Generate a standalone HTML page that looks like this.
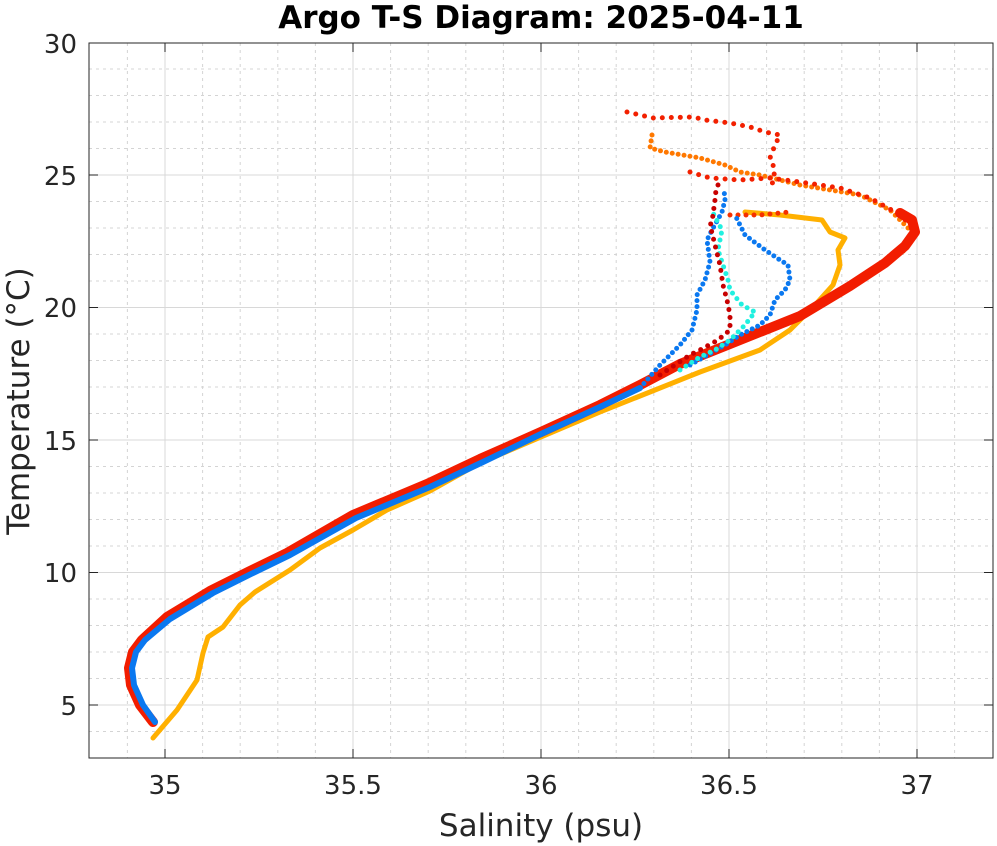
<!DOCTYPE html>
<html><head><meta charset="utf-8"><style>
html,body{margin:0;padding:0;background:#fff;}
svg{display:block;font-family:"DejaVu Sans","Liberation Sans",sans-serif;}
</style></head><body>
<svg width="997" height="846" viewBox="0 0 997 846" xmlns="http://www.w3.org/2000/svg">
<rect width="997" height="846" fill="#fff"/>
<g stroke="#d4d4d4" stroke-width="1" stroke-dasharray="3,4">
<line x1="127.4" y1="43" x2="127.4" y2="758"/><line x1="202.6" y1="43" x2="202.6" y2="758"/><line x1="240.2" y1="43" x2="240.2" y2="758"/><line x1="277.8" y1="43" x2="277.8" y2="758"/><line x1="315.4" y1="43" x2="315.4" y2="758"/><line x1="390.6" y1="43" x2="390.6" y2="758"/><line x1="428.2" y1="43" x2="428.2" y2="758"/><line x1="465.8" y1="43" x2="465.8" y2="758"/><line x1="503.4" y1="43" x2="503.4" y2="758"/><line x1="578.6" y1="43" x2="578.6" y2="758"/><line x1="616.2" y1="43" x2="616.2" y2="758"/><line x1="653.8" y1="43" x2="653.8" y2="758"/><line x1="691.4" y1="43" x2="691.4" y2="758"/><line x1="766.6" y1="43" x2="766.6" y2="758"/><line x1="804.2" y1="43" x2="804.2" y2="758"/><line x1="841.8" y1="43" x2="841.8" y2="758"/><line x1="879.4" y1="43" x2="879.4" y2="758"/><line x1="954.6" y1="43" x2="954.6" y2="758"/>
<line x1="89" y1="731.5" x2="993" y2="731.5"/><line x1="89" y1="678.5" x2="993" y2="678.5"/><line x1="89" y1="652" x2="993" y2="652"/><line x1="89" y1="625.5" x2="993" y2="625.5"/><line x1="89" y1="599" x2="993" y2="599"/><line x1="89" y1="546" x2="993" y2="546"/><line x1="89" y1="519.5" x2="993" y2="519.5"/><line x1="89" y1="493" x2="993" y2="493"/><line x1="89" y1="466.5" x2="993" y2="466.5"/><line x1="89" y1="413.5" x2="993" y2="413.5"/><line x1="89" y1="387" x2="993" y2="387"/><line x1="89" y1="360.5" x2="993" y2="360.5"/><line x1="89" y1="334" x2="993" y2="334"/><line x1="89" y1="281" x2="993" y2="281"/><line x1="89" y1="254.5" x2="993" y2="254.5"/><line x1="89" y1="228" x2="993" y2="228"/><line x1="89" y1="201.5" x2="993" y2="201.5"/><line x1="89" y1="148.5" x2="993" y2="148.5"/><line x1="89" y1="122" x2="993" y2="122"/><line x1="89" y1="95.5" x2="993" y2="95.5"/><line x1="89" y1="69" x2="993" y2="69"/>
</g>
<g stroke="#d8d8d8" stroke-width="1">
<line x1="165" y1="43" x2="165" y2="758"/><line x1="353" y1="43" x2="353" y2="758"/><line x1="541" y1="43" x2="541" y2="758"/><line x1="729" y1="43" x2="729" y2="758"/><line x1="917" y1="43" x2="917" y2="758"/>
<line x1="89" y1="705" x2="993" y2="705"/><line x1="89" y1="572.5" x2="993" y2="572.5"/><line x1="89" y1="440" x2="993" y2="440"/><line x1="89" y1="307.5" x2="993" y2="307.5"/><line x1="89" y1="175" x2="993" y2="175"/>
</g>
<g fill="none" stroke-linecap="round" stroke-linejoin="round">
<!-- yellow -->
<polyline stroke="#ffb000" stroke-width="5" points="153,738 177,710 197,680 203,653 208,637 223,627 240,605 255,592 290,570 320,548 353,530 387,510 430,491 480,463 541,437 600,412 650,392 700,372 760,350 790,330 815,305 833,285 840,265 838,250 845,238 830,232 822,220 780,215 745,212"/>
<!-- orange -->
<polyline stroke="#ff7800" stroke-width="5" stroke-dasharray="0 6" points="652,135 650,148 665,152 700,158 725,165 740,172 760,175 780,180 800,185 830,190 860,195 890,210 905,225 915,235 905,250 880,265"/>
<!-- red top -->
<polyline stroke="#f22000" stroke-width="5" stroke-dasharray="0 9" points="627,112 653,118 693,117 705,120 730,123 750,127 765,132 780,135 775,145 770,158 775,170 772,185"/>
<polyline stroke="#f22000" stroke-width="5" stroke-dasharray="0 9" points="690,172 710,178 740,180 770,178 800,182 840,188 870,198 895,212 908,222"/>
<polyline stroke="#f53000" stroke-width="5" stroke-dasharray="0 8" points="730,215 760,215 790,212"/>
<!-- main red -->
<polyline stroke="#f21d00" stroke-width="10" points="153,722 140,705 131,685 129,668 133,652 142,640 167,617 210,591 248,572 287,553 353,515 427,484 480,459 541,432 600,405 640,385 680,364 730,344 800,316 850,286 885,263 905,246 915,232 912,220 900,213"/>
<!-- blue -->
<polyline stroke="#0a78f0" stroke-width="6" points="155,722 143,705 134,685 132,668 136,652 145,640 170,619 213,593 251,574 290,555 356,518 430,487 483,462 541,434 600,407 640,388"/>
<polyline stroke="#0a78f0" stroke-width="5" stroke-dasharray="0 6" points="640,388 660,365 680,345 692,330 697,310 697,295 705,280 710,262 707,240 712,230 722,212 725,200 724,190"/>
<polyline stroke="#0a78f0" stroke-width="5" stroke-dasharray="0 6" points="690,365 725,345 740,335 760,325 770,315 775,300 785,290 790,280 788,265 780,260 765,250 745,235 735,215"/>
<!-- cyan -->
<polyline stroke="#20f0e0" stroke-width="5" stroke-dasharray="0 7" points="680,370 700,357 715,350 730,340 745,325 755,312 742,305 730,290 728,280 723,265 718,250 722,230 713,213"/>
<!-- dark red -->
<polyline stroke="#c80000" stroke-width="5" stroke-dasharray="0 8" points="660,375 690,355 700,350 718,340 730,330 730,315 727,300 723,285 720,265 715,245 710,225 712,222 715,200 716,190 720,180"/>
</g>
<rect x="89" y="43" width="904" height="715" fill="none" stroke="#262626" stroke-width="1"/>
<g stroke="#262626" stroke-width="1">
<line x1="165" y1="758" x2="165" y2="749"/><line x1="353" y1="758" x2="353" y2="749"/><line x1="541" y1="758" x2="541" y2="749"/><line x1="729" y1="758" x2="729" y2="749"/><line x1="917" y1="758" x2="917" y2="749"/>
<line x1="165" y1="43" x2="165" y2="52"/><line x1="353" y1="43" x2="353" y2="52"/><line x1="541" y1="43" x2="541" y2="52"/><line x1="729" y1="43" x2="729" y2="52"/><line x1="917" y1="43" x2="917" y2="52"/>
<line x1="89" y1="705" x2="98" y2="705"/><line x1="89" y1="572.5" x2="98" y2="572.5"/><line x1="89" y1="440" x2="98" y2="440"/><line x1="89" y1="307.5" x2="98" y2="307.5"/><line x1="89" y1="175" x2="98" y2="175"/>
<line x1="993" y1="705" x2="984" y2="705"/><line x1="993" y1="572.5" x2="984" y2="572.5"/><line x1="993" y1="440" x2="984" y2="440"/><line x1="993" y1="307.5" x2="984" y2="307.5"/><line x1="993" y1="175" x2="984" y2="175"/>
</g>
<g fill="#262626" font-size="26" text-anchor="middle">
<text x="165" y="794">35</text><text x="353" y="794">35.5</text><text x="541" y="794">36</text><text x="729" y="794">36.5</text><text x="917" y="794">37</text>
</g>
<g fill="#262626" font-size="26" text-anchor="end">
<text x="77" y="715">5</text><text x="77" y="582">10</text><text x="77" y="450">15</text><text x="77" y="317">20</text><text x="77" y="185">25</text><text x="77" y="53">30</text>
</g>
<text x="541" y="836" fill="#262626" font-size="31" text-anchor="middle">Salinity (psu)</text>
<text transform="translate(29,401) rotate(-90)" fill="#262626" font-size="31" text-anchor="middle">Temperature (°C)</text>
<text x="541" y="28" fill="#000" font-size="31" font-weight="bold" text-anchor="middle">Argo T-S Diagram: 2025-04-11</text>
</svg>
</body></html>
